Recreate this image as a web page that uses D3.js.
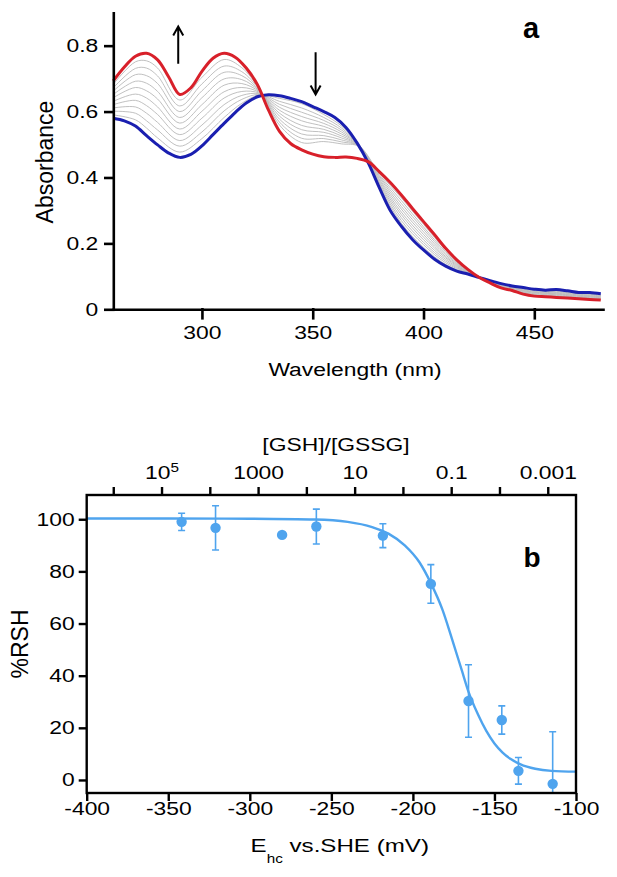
<!DOCTYPE html>
<html><head><meta charset="utf-8">
<script src="https://cdn.jsdelivr.net/npm/d3@7"></script>
<style>
body{margin:0;background:#fff;}
svg{display:block;}
</style></head><body>
<svg id="c" width="617" height="877"></svg>
<script>
// ---------- Panel a data (absorbance spectra) ----------
const wavelengths = [260,265,270,275,280,285,290,295,300,305,310,315,320,325,330,335,340,345,350,355,360,365,370,375,380,385,390,395,400,405,410,415,420,425,430,435,440,445,450,455,460,465,470,475,480];
const redSpectrum = [0.693,0.735,0.768,0.777,0.757,0.705,0.652,0.672,0.722,0.762,0.777,0.765,0.732,0.682,0.605,0.540,0.503,0.484,0.471,0.463,0.461,0.462,0.458,0.448,0.418,0.385,0.347,0.306,0.266,0.226,0.185,0.150,0.121,0.097,0.080,0.065,0.057,0.046,0.040,0.038,0.036,0.034,0.032,0.030,0.028];
const blueSpectrum = [0.580,0.572,0.556,0.527,0.499,0.474,0.461,0.470,0.496,0.530,0.564,0.597,0.626,0.645,0.651,0.648,0.640,0.630,0.615,0.600,0.582,0.552,0.505,0.445,0.370,0.300,0.252,0.212,0.180,0.152,0.131,0.116,0.107,0.097,0.087,0.078,0.071,0.066,0.061,0.058,0.060,0.056,0.051,0.051,0.047];
const greyWavelengths = [260,270,275,280,290,300,310,318,326,335,345,355,363,371,380,390,400,410,420,430,445,460,480];
const grey1  = [0.590,0.575,0.550,0.520,0.477,0.518,0.582,0.625,0.650,0.640,0.624,0.591,0.556,0.499,0.374,0.261,0.188,0.136,0.108,0.087,0.064,0.055,0.044];
const grey2  = [0.601,0.595,0.572,0.544,0.495,0.538,0.602,0.637,0.652,0.631,0.611,0.582,0.550,0.498,0.379,0.269,0.196,0.141,0.110,0.087,0.063,0.053,0.043];
const grey3  = [0.611,0.614,0.595,0.567,0.512,0.559,0.621,0.649,0.654,0.622,0.598,0.573,0.544,0.498,0.383,0.278,0.203,0.146,0.111,0.086,0.061,0.051,0.041];
const grey4  = [0.621,0.634,0.618,0.591,0.530,0.580,0.641,0.661,0.656,0.613,0.585,0.564,0.538,0.497,0.387,0.287,0.211,0.151,0.112,0.085,0.059,0.049,0.039];
const grey5  = [0.631,0.653,0.641,0.614,0.547,0.601,0.660,0.673,0.658,0.604,0.572,0.555,0.532,0.497,0.392,0.295,0.219,0.156,0.113,0.084,0.057,0.047,0.038];
const grey6  = [0.642,0.673,0.663,0.638,0.565,0.621,0.680,0.685,0.660,0.595,0.558,0.546,0.526,0.496,0.396,0.304,0.227,0.160,0.115,0.084,0.056,0.046,0.036];
const grey7  = [0.652,0.692,0.686,0.661,0.582,0.642,0.699,0.697,0.662,0.586,0.545,0.537,0.520,0.496,0.401,0.312,0.235,0.165,0.116,0.083,0.054,0.044,0.035];
const grey8  = [0.662,0.712,0.709,0.685,0.600,0.663,0.719,0.709,0.664,0.577,0.532,0.527,0.514,0.495,0.405,0.321,0.243,0.170,0.117,0.082,0.052,0.042,0.033];
const grey9  = [0.672,0.731,0.732,0.708,0.617,0.684,0.738,0.721,0.666,0.568,0.519,0.518,0.508,0.495,0.409,0.330,0.250,0.175,0.118,0.081,0.050,0.040,0.031];
const grey10 = [0.683,0.751,0.754,0.732,0.635,0.704,0.758,0.733,0.668,0.559,0.506,0.509,0.502,0.494,0.414,0.338,0.258,0.180,0.120,0.081,0.049,0.038,0.030];
const absTicks = [0, 0.2, 0.4, 0.6, 0.8];
const wlTicks = [300, 350, 400, 450];
// arrows: wavelength, start absorbance, end (tip) absorbance
const arrowWl = [289.3, 351.3];
const arrowFrom = [0.745, 0.780];
const arrowTo = [0.858, 0.652];

// ---------- Panel b data (%RSH vs potential) ----------
const potentials = [-341.8,-321.0,-280.2,-259.2,-218.4,-189.0,-165.9,-145.5,-135.3,-114.3];
const rshPercent = [99.0,96.7,94.0,97.2,93.7,75.2,30.3,23.0,3.5,-1.5];
const rshError   = [3.3,8.5,null,6.7,4.6,7.4,13.9,5.4,5.1,20.0];
const fitPotentials = [-400,-350,-300,-260,-240,-225,-215,-205,-196,-189,-182,-176,-170,-166,-160,-155,-150,-145,-140,-134,-125,-115,-100];
const fitValues     = [100.3,100.3,100.2,99.9,99.0,97.0,94.5,90.0,83.5,75.5,65.5,54.0,42.0,34.0,25.0,18.8,14.0,10.5,8.0,6.0,4.3,3.5,3.2];
const eTicks = [-400,-350,-300,-250,-200,-150,-100];
const pctTicks = [0,20,40,60,80,100];
const ratioLogTicks = [6,5,4,3,2,1,0,-1,-2,-3];
const ratioLabelLogs = [5,3,1,-1,-3];
const ratioLabelText = ["10","1000","10","0.1","0.001"];

// ---------- drawing ----------
const FONT = "'Liberation Sans', Arial, Helvetica, sans-serif";
const STRETCH = 1.27;
const RED = "#d8202a", BLUE = "#1a1fb0", GREY = "#b9b9b9", SKY = "#4fa4ee";
const svg = d3.select("#c").attr("font-family", FONT);

// Panel a
const xA = d3.scaleLinear().domain([260, 481]).range([113.3, 603]);
const yA = d3.scaleLinear().domain([0, 0.9]).range([309.3, 12.7]);
const gA = svg.append("g");
const spec = d3.line().x(d => xA(d[0])).y(d => yA(d[1])).curve(d3.curveCatmullRom.alpha(0.5));

[grey1,grey2,grey3,grey4,grey5,grey6,grey7,grey8,grey9,grey10].forEach(g => {
  gA.append("path").attr("d", spec(d3.zip(greyWavelengths, g)))
    .attr("fill","none").attr("stroke",GREY).attr("stroke-width",0.9);
});
gA.append("path").attr("d", spec(d3.zip(wavelengths, blueSpectrum)))
  .attr("fill","none").attr("stroke",BLUE).attr("stroke-width",3).attr("stroke-linejoin","round");
gA.append("path").attr("d", spec(d3.zip(wavelengths, redSpectrum)))
  .attr("fill","none").attr("stroke",RED).attr("stroke-width",3).attr("stroke-linejoin","round");

// arrows
arrowWl.forEach((w, i) => {
  const x = xA(w), y0 = yA(arrowFrom[i]), y1 = yA(arrowTo[i]);
  const dir = y1 < y0 ? 1 : -1;
  gA.append("path")
    .attr("d", `M${x},${y0}L${x},${y1}M${x-5},${y1+dir*9}L${x},${y1}L${x+5},${y1+dir*9}`)
    .attr("fill","none").attr("stroke","#000").attr("stroke-width",2);
});

const axAL = d3.axisLeft(yA).tickValues(absTicks).tickSize(8).tickPadding(7).tickSizeOuter(0)
  .tickFormat(d => d === 0 ? "0" : d3.format(".1f")(d));
const axAB = d3.axisBottom(xA).tickValues(wlTicks).tickSize(9).tickPadding(8).tickSizeOuter(0)
  .tickFormat(d => String(d));
const gAL = gA.append("g").attr("transform", `translate(${xA.range()[0]},0)`).call(axAL);
const gAB = gA.append("g").attr("transform", `translate(0,${yA.range()[0]})`).call(axAB);
[gAL, gAB].forEach(g => {
  g.attr("font-family", null).attr("font-size", null);
  g.selectAll(".domain,.tick line").attr("stroke","#000").attr("stroke-width",2.6).attr("stroke-linecap","square");
  g.selectAll(".tick text").attr("font-size",18).attr("fill","#000").classed("s", true);
});

gA.append("text").attr("transform","translate(53,162) rotate(-90)").attr("text-anchor","middle")
  .attr("font-size",23).text("Absorbance");
gA.append("text").attr("x",355).attr("y",376).attr("text-anchor","middle")
  .attr("font-size",18).classed("s",true).text("Wavelength (nm)");
gA.append("text").attr("x",531).attr("y",38).attr("text-anchor","middle")
  .attr("font-size",29).attr("font-weight","bold").text("a");

// Panel b
const xB = d3.scaleLinear().domain([-400, -100]).range([86.7, 576]);
const yB = d3.scaleLinear().domain([-5, 109.3]).range([793, 495]);
const xT = d3.scaleLinear().domain([6.55, -3.585]).range([86.7, 576]);
const gB = svg.append("g");

gB.append("clipPath").attr("id","clipB").append("rect")
  .attr("x", xB.range()[0]).attr("y", yB.range()[1])
  .attr("width", xB.range()[1]-xB.range()[0]).attr("height", yB.range()[0]-yB.range()[1]);

const plotB = gB.append("g").attr("clip-path","url(#clipB)");
const fit = d3.line().x(d => xB(d[0])).y(d => yB(d[1])).curve(d3.curveMonotoneX);
plotB.append("path").attr("d", fit(d3.zip(fitPotentials, fitValues)))
  .attr("fill","none").attr("stroke",SKY).attr("stroke-width",2.4);

potentials.forEach((p, i) => {
  const e = rshError[i];
  if (e != null) {
    const x = xB(p), yt = yB(rshPercent[i] + e), yb = yB(rshPercent[i] - e);
    plotB.append("path")
      .attr("d", `M${x},${yt}L${x},${yb}M${x-3.5},${yt}L${x+3.5},${yt}M${x-3.5},${yb}L${x+3.5},${yb}`)
      .attr("fill","none").attr("stroke",SKY).attr("stroke-width",1.6);
  }
});
plotB.selectAll("circle.pt").data(d3.zip(potentials, rshPercent)).join("circle")
  .attr("class","pt").attr("cx", d => xB(d[0])).attr("cy", d => yB(d[1])).attr("r", 5.2).attr("fill", SKY);

gB.append("rect").attr("x", xB.range()[0]).attr("y", yB.range()[1])
  .attr("width", xB.range()[1]-xB.range()[0]).attr("height", yB.range()[0]-yB.range()[1])
  .attr("fill","none").attr("stroke","#000").attr("stroke-width",2.4);

const axBL = d3.axisLeft(yB).tickValues(pctTicks).tickSize(8).tickPadding(4).tickSizeOuter(0).tickFormat(d => String(d));
const axBB = d3.axisBottom(xB).tickValues(eTicks).tickSize(8).tickPadding(1).tickSizeOuter(0).tickFormat(d => String(d));
const axBT = d3.axisTop(xT).tickValues(ratioLogTicks).tickSize(8).tickPadding(8).tickSizeOuter(0)
  .tickFormat(d => { const k = ratioLabelLogs.indexOf(d); return k >= 0 ? ratioLabelText[k] : ""; });
const gBL = gB.append("g").attr("transform", `translate(${xB.range()[0]},0)`).call(axBL);
const gBB = gB.append("g").attr("transform", `translate(0,${yB.range()[0]})`).call(axBB);
const gBT = gB.append("g").attr("transform", `translate(0,${yB.range()[1]})`).call(axBT);
[gBL, gBB, gBT].forEach(g => {
  g.attr("font-family", null).attr("font-size", null);
  g.select(".domain").remove();
  g.selectAll(".tick line").attr("stroke","#000").attr("stroke-width",2.4);
  g.selectAll(".tick text").attr("font-size",18).attr("fill","#000").classed("s", true);
});
gBT.selectAll(".tick text").filter(d => d === 5)
  .append("tspan").attr("dy","-0.6em").attr("font-size",12).text("5");

gB.append("text").attr("transform","translate(28,644) rotate(-90)").attr("text-anchor","middle")
  .attr("font-size",23).text("%RSH");
gB.append("text").attr("x",336).attr("y",451).attr("text-anchor","middle")
  .attr("font-size",18).classed("s",true).text("[GSH]/[GSSG]");
const eLab = gB.append("text").attr("x",250.6).attr("y",852).attr("font-size",19).classed("s",true);
eLab.append("tspan").text("E");
eLab.append("tspan").attr("dy",11).attr("font-size",12).text("hc");
eLab.append("tspan").attr("dy",-11).text(" vs.SHE (mV)");
gB.append("text").attr("x",532).attr("y",567).attr("text-anchor","middle")
  .attr("font-size",28).attr("font-weight","bold").text("b");

// horizontal stretch of the text, as in the reference
svg.selectAll("text.s").each(function () {
  const L = this.getComputedTextLength();
  if (L > 0) d3.select(this).attr("textLength", L * STRETCH).attr("lengthAdjust", "spacingAndGlyphs");
});
</script>
</body></html>
